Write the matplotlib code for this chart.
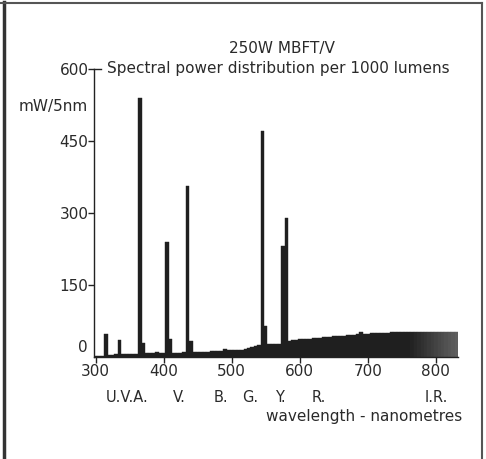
import matplotlib
matplotlib.use("Agg")
import matplotlib.pyplot as plt
from matplotlib.lines import Line2D

plt.rcParams['font.family'] = ['DejaVu Sans']

# 5 nm bins, 300 .. 830 nm
wavelengths = list(range(300, 835, 5))
continuum = [2, 2, 3, 4, 5, 5, 6, 6, 6, 7,
             7, 7, 7, 8, 8, 8, 9, 9, 10, 9,
             8, 8, 8, 8, 9, 9, 10, 10, 10, 10,
             10, 11, 11, 11, 12, 12, 12, 13, 17, 14,
             14, 14, 14, 15, 16, 18, 20, 22, 24, 25,
             27, 27, 27, 28, 28, 29, 32, 34, 35, 36,
             37, 37, 38, 38, 39, 40, 40, 41, 42, 42,
             43, 43, 44, 44, 45, 46, 46, 47, 52, 48,
             48, 49, 49, 50, 50, 51, 51, 52, 52, 52,
             52, 52, 53, 53, 53, 53, 53, 52, 53, 53,
             53, 53, 52, 53, 52, 52, 52]
line_wavelengths = [315, 335, 365, 370, 390, 405, 410, 435, 440, 545, 550, 575, 580]
line_heights =     [48,  35,  540, 29,  10,  240, 38,  356, 33,  471, 65,  231, 290]

x_ticks = [300, 400, 500, 600, 700, 800]
y_ticks = [150, 300, 450, 600]
band_labels = ["U.V.A.", "V.", "B.", "G.", "Y.", "R.", "I.R."]
band_centres = [346, 423, 484, 527, 572, 628, 800]

values = dict(zip(wavelengths, continuum))
for w, h in zip(line_wavelengths, line_heights):
    values[w] = max(values[w], h)
heights = [values[w] for w in wavelengths]

def bar_colour(w):
    t = min(max((w - 760) / 70.0, 0), 1)
    c = 0.12 + 0.25 * t
    return (c, c, c)

colours = [bar_colour(w) for w in wavelengths]
txt = '#2a2a2a'

fig = plt.figure(figsize=(4.86, 4.59), dpi=100)
ax = fig.add_axes([94/486, 1 - 357/459, (458 - 94)/486, (357 - 69)/459])
ax.bar(wavelengths, heights, width=5, color=colours, edgecolor=colours, linewidth=0.3)
ax.set_xlim(297.5, 832.5)
ax.set_ylim(0, 600)
for s in ['top', 'right']:
    ax.spines[s].set_visible(False)
for s in ['left', 'bottom']:
    ax.spines[s].set_color('#222222')
    ax.spines[s].set_linewidth(1.0)
ax.set_xticks(x_ticks)
ax.set_xticklabels([str(v) for v in x_ticks])
ax.set_yticks(y_ticks)
ax.set_yticklabels([str(v) for v in y_ticks])
ax.tick_params(axis='both', direction='out', length=4, width=1, colors='#222222',
               labelsize=11, labelcolor=txt)
ax.tick_params(axis='x', pad=1)
ax.tick_params(axis='y', pad=0)
ax.annotate("0", xy=(0, 0), xycoords=('axes fraction', 'data'), xytext=(-6, 9),
            textcoords='offset pixels', ha='right', va='center', fontsize=11, color=txt)
ax.plot([0, 0.02], [1, 1], transform=ax.transAxes, color='#222222', lw=1, clip_on=False)

for lab, c in zip(band_labels, band_centres):
    ax.annotate(lab, xy=(c, 0), xycoords=('data', 'axes fraction'), xytext=(0, -40),
                textcoords='offset pixels', ha='center', va='center', fontsize=10.5, color=txt)

fig.text(282/486, 1 - 48/459, "250W MBFT/V", ha='center', va='center', fontsize=11, color=txt)
fig.text(107/486, 1 - 69/459, "Spectral power distribution per 1000 lumens",
         ha='left', va='center', fontsize=11, color=txt)
fig.text(88/486, 1 - 106/459, "mW/5nm", ha='right', va='center', fontsize=11, color=txt)
fig.text(462/486, 1 - 417/459, "wavelength - nanometres", ha='right', va='center',
         fontsize=11, color=txt)

# page frame
fig.add_artist(Line2D([4/486, 4/486], [0, 1 - 2/459], transform=fig.transFigure,
                      color='#333333', lw=2.5))
fig.add_artist(Line2D([0, 482/486], [1 - 3/459, 1 - 3/459], transform=fig.transFigure,
                      color='#555555', lw=1.5))
fig.add_artist(Line2D([482/486, 482/486], [0, 1 - 3/459], transform=fig.transFigure,
                      color='#555555', lw=1.5))

fig.savefig("out.png", dpi=100)
